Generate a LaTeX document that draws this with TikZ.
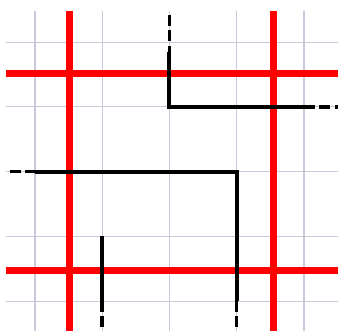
\documentclass[tikz,border=0pt]{standalone}
\begin{document}
\begin{tikzpicture}[x=1cm,y=0.963cm,
  gridline/.style={draw=blue!20!gray!35,line width=0.45pt},
  cutline/.style={draw=red,line width=3pt},
  wire/.style={draw=black,line width=1.7pt},
  wireext/.style={draw=black,line width=1.5pt,dash pattern=on 4.5pt off 2pt}]

\useasboundingbox (-0.52,-0.463) rectangle (4.506,4.65) ;

\foreach \i in {0,...,4} {
  \draw[gridline] (\i,4.48) -- (\i,-0.463) ;
  \draw[gridline] (-0.43,\i) -- (4.506,\i) ;
}

\draw[cutline] (0.51,4.48) -- (0.51,-0.463) ;
\draw[cutline] (3.55,4.48) -- (3.55,-0.463) ;
\draw[cutline] (-0.43,3.52) -- (4.506,3.52) ;
\draw[cutline] (-0.43,0.48) -- (4.506,0.48) ;

\coordinate (a_top) at (2,4.42) ;
\coordinate (a_in) at (2,3.85) ;
\coordinate (a_corner) at (2,3) ;
\coordinate (a_out) at (4,3) ;
\coordinate (a_end) at (4.506,3) ;

\coordinate (b_start) at (-0.37,2) ;
\coordinate (b_in) at (0,2) ;
\coordinate (b_corner) at (3,2) ;
\coordinate (b_out) at (3,0) ;
\coordinate (b_end) at (3,-0.463) ;

\coordinate (c_in) at (1,1) ;
\coordinate (c_out) at (1,0) ;
\coordinate (c_end) at (1,-0.463) ;

\draw[wireext] (a_top) -- (a_in) ;
\draw[wire] (a_in) -- (a_corner) -- (a_out) ;
\draw[wireext] (a_out) -- (a_end) ;

\draw[wireext] (b_start) -- (b_in) ;
\draw[wire] (b_in) -- (b_corner) -- (b_out) ;
\draw[wireext] (b_out) -- (b_end) ;

\draw[wire] (c_in) -- (c_out) ;
\draw[wireext] (c_out) -- (c_end) ;

\end{tikzpicture}
\end{document}
